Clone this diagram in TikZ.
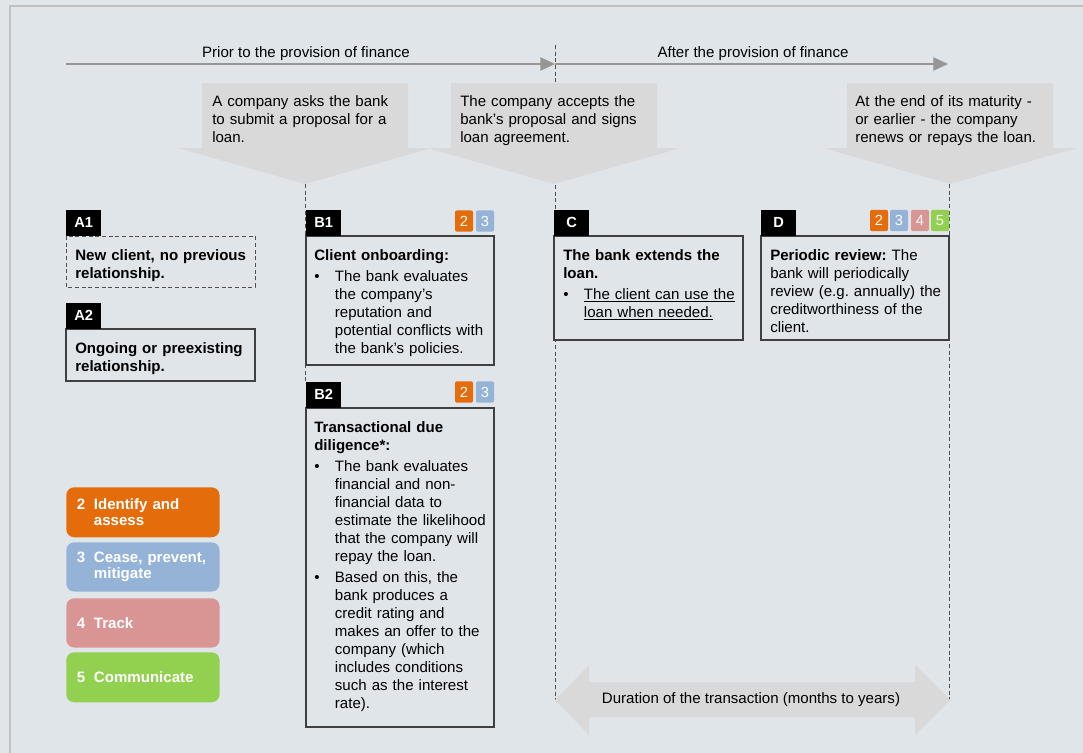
\documentclass[tikz,border=0pt]{standalone}
\usepackage{fontspec}
\setmainfont{Liberation Sans}
\usetikzlibrary{arrows.meta}
\frenchspacing

\definecolor{bgcol}{RGB}{224,229,234}
\definecolor{framecol}{RGB}{192,192,192}
\definecolor{callcol}{RGB}{217,217,217}
\definecolor{tlcol}{RGB}{150,150,150}
\definecolor{boxcol}{RGB}{64,64,64}
\definecolor{dashcol}{RGB}{80,80,80}
\definecolor{orangeid}{RGB}{228,108,10}
\definecolor{bluecease}{RGB}{149,179,215}
\definecolor{pinktrack}{RGB}{217,149,148}
\definecolor{greencomm}{RGB}{146,208,80}

\newcommand{\bul}{\par\vspace{2.25pt}\hangindent=15.5pt\hangafter=1\noindent\makebox[15.5pt][l]{\textbullet}}
\newcommand{\legnum}[1]{\hangindent=12.75pt\hangafter=1\noindent\makebox[12.75pt][l]{#1}}

\begin{document}
\begin{tikzpicture}[x=0.75pt,y=0.75pt,yscale=-1,xscale=1,
  txt/.style={anchor=north west,inner sep=0pt,align=left,text width=#1,font=\fontsize{11.3}{13.5}\selectfont},
  txt/.default=150pt,
  tline/.style={draw=tlcol,line width=0.9pt,-{Triangle[length=11pt,width=10pt]}},
  vdash/.style={draw=dashcol,line width=0.75pt,dash pattern=on 3pt off 2pt},
  callout/.style={fill=callcol},
  box/.style={draw=boxcol,fill=bgcol,line width=0.9pt},
  tagbox/.style={fill=black,text=white,anchor=south west,inner sep=0pt,minimum width=26.25pt,minimum height=19.5pt,font=\bfseries\fontsize{11}{11}\selectfont},
  badge/.style={fill=#1,text=white,rounded corners=1.5pt,inner sep=0pt,minimum width=13.5pt,minimum height=16pt,font=\fontsize{11}{11}\selectfont},
  legbox/.style={fill=#1,text=white,rounded corners=6pt,anchor=north west,inner xsep=8pt,inner ysep=0pt,text width=99pt,minimum height=37pt,align=left,font=\bfseries\fontsize{11.3}{12}\selectfont}
]
\useasboundingbox (0,0) rectangle (1083,753);
\fill[bgcol] (0,0) rectangle (1083,753);
%frame
\draw[framecol,line width=1.5pt] (10,760) -- (10,6) -- (1090,6);

%Timeline
\coordinate (t0) at (66,64);
\coordinate (t1) at (555,64);
\coordinate (t2) at (948,64);
\draw[tline] (t0) -- (t1);
\draw[tline] (t1) -- (t2);
\node[font=\fontsize{11.3}{13.5}\selectfont] (prior) at (306,54) {Prior to the provision of finance};
\node[font=\fontsize{11.3}{13.5}\selectfont] (after) at (753,54) {After the provision of finance};

%Dashed lines
\coordinate (d1a) at (555,45);
\coordinate (d1b) at (555,700);
\coordinate (d2a) at (305,184);
\coordinate (d2b) at (305,382);
\coordinate (d3a) at (949,184);
\coordinate (d3b) at (949,700);
\draw[vdash] (d1a) -- (d1b);
\draw[vdash] (d2a) -- (d2b);
\draw[vdash] (d3a) -- (d3b);

%Shape: callouts
\fill[callout] (202,83) -- (408,83) -- (408,148) -- (432,148) -- (305,184) -- (178,148) -- (202,148) -- cycle;
\fill[callout] (451,83) -- (657,83) -- (657,148) -- (681,148) -- (554,184) -- (427,148) -- (451,148) -- cycle;
\fill[callout] (847,83) -- (1053,83) -- (1053,148) -- (1077,148) -- (950,184) -- (823,148) -- (847,148) -- cycle;
% Text Node
\node[txt] (ask) at (212,95) {A company asks the bank\newline to submit a proposal for a\newline loan.};
\node[txt] (accept) at (460,95) {The company accepts the\newline bank's proposal and signs\newline loan agreement.};
\node[txt] (maturity) at (855,95) {At the end of its maturity -\newline or earlier - the company\newline renews or repays the loan.};

%Shape: A boxes
\draw[box,draw=dashcol,dash pattern=on 3pt off 2pt,line width=0.75pt] (66,236) rectangle (255,287);
\node[tagbox] (a1) at (66,236) {A1};
\node[txt] (a1txt) at (75,249) {\bfseries New client, no previous\newline relationship.};
\draw[box] (66,329) rectangle (255,381);
\node[tagbox] (a2) at (66,329) {A2};
\node[txt] (a2txt) at (75,342) {\bfseries Ongoing or preexisting\newline relationship.};

%Shape: B boxes
\draw[box] (306,236) rectangle (494,365);
\node[tagbox] (b1) at (306,236) {B1};
\node[badge=orangeid] (b1s2) at (464,221) {2};
\node[badge=bluecease] (b1s3) at (485,221) {3};
\node[txt] (b1txt) at (314,249) {\textbf{Client onboarding:}\bul The bank evaluates\newline the company's\newline reputation and\newline potential conflicts with\newline the bank's policies.\par};

\draw[box] (306,408) rectangle (494,727);
\node[tagbox] (b2) at (306,408) {B2};
\node[badge=orangeid] (b2s2) at (464,392) {2};
\node[badge=bluecease] (b2s3) at (485,392) {3};
\node[txt] (b2txt) at (314,421) {\textbf{Transactional due\newline diligence*:}\bul The bank evaluates\newline financial and non-\newline financial data to\newline estimate the likelihood\newline that the company will\newline repay the loan.\bul Based on this, the\newline bank produces a\newline credit rating and\newline makes an offer to the\newline company (which\newline includes conditions\newline such as the interest\newline rate).\par};

%Shape: C box
\draw[box] (554,236) rectangle (743,340);
\node[tagbox] (c) at (554,236) {C};
\node[txt] (ctxt) at (563,249) {\textbf{The bank extends the\newline loan.}\bul\underline{The client can use the}\newline\underline{loan when needed.}\par};

%Shape: D box
\draw[box] (761,236) rectangle (949,340);
\node[tagbox] (d) at (761,236) {D};
\node[badge=orangeid] (ds2) at (879,220.5) {2};
\node[badge=bluecease] (ds3) at (899,220.5) {3};
\node[badge=pinktrack] (ds4) at (920,220.5) {4};
\node[badge=greencomm] (ds5) at (940,220.5) {5};
\node[txt] (dtxt) at (770,249) {\textbf{Periodic review:} The\newline bank will periodically\newline review (e.g. annually) the\newline creditworthiness of the\newline client.};

%Legend
\node[legbox=orangeid,minimum height=37.5pt] (leg2) at (66,487) {\legnum{2}Identify and\newline assess\par};
\node[legbox=bluecease] (leg3) at (66,542) {\legnum{3}Cease, prevent,\newline mitigate\par};
\node[legbox=pinktrack] (leg4) at (66,598) {\legnum{4}Track\par};
\node[legbox=greencomm,minimum height=37.5pt] (leg5) at (66,652) {\legnum{5}Communicate\par};

%Shape: duration arrow
\fill[callout] (555,700) -- (589,665) -- (589,682) -- (915,682) -- (915,665) -- (950,700) -- (915,735) -- (915,717) -- (589,717) -- (589,735) -- cycle;
\node[font=\fontsize{11.3}{13.5}\selectfont] (dur) at (751,700) {Duration of the transaction (months to years)};

\end{tikzpicture}
\end{document}
